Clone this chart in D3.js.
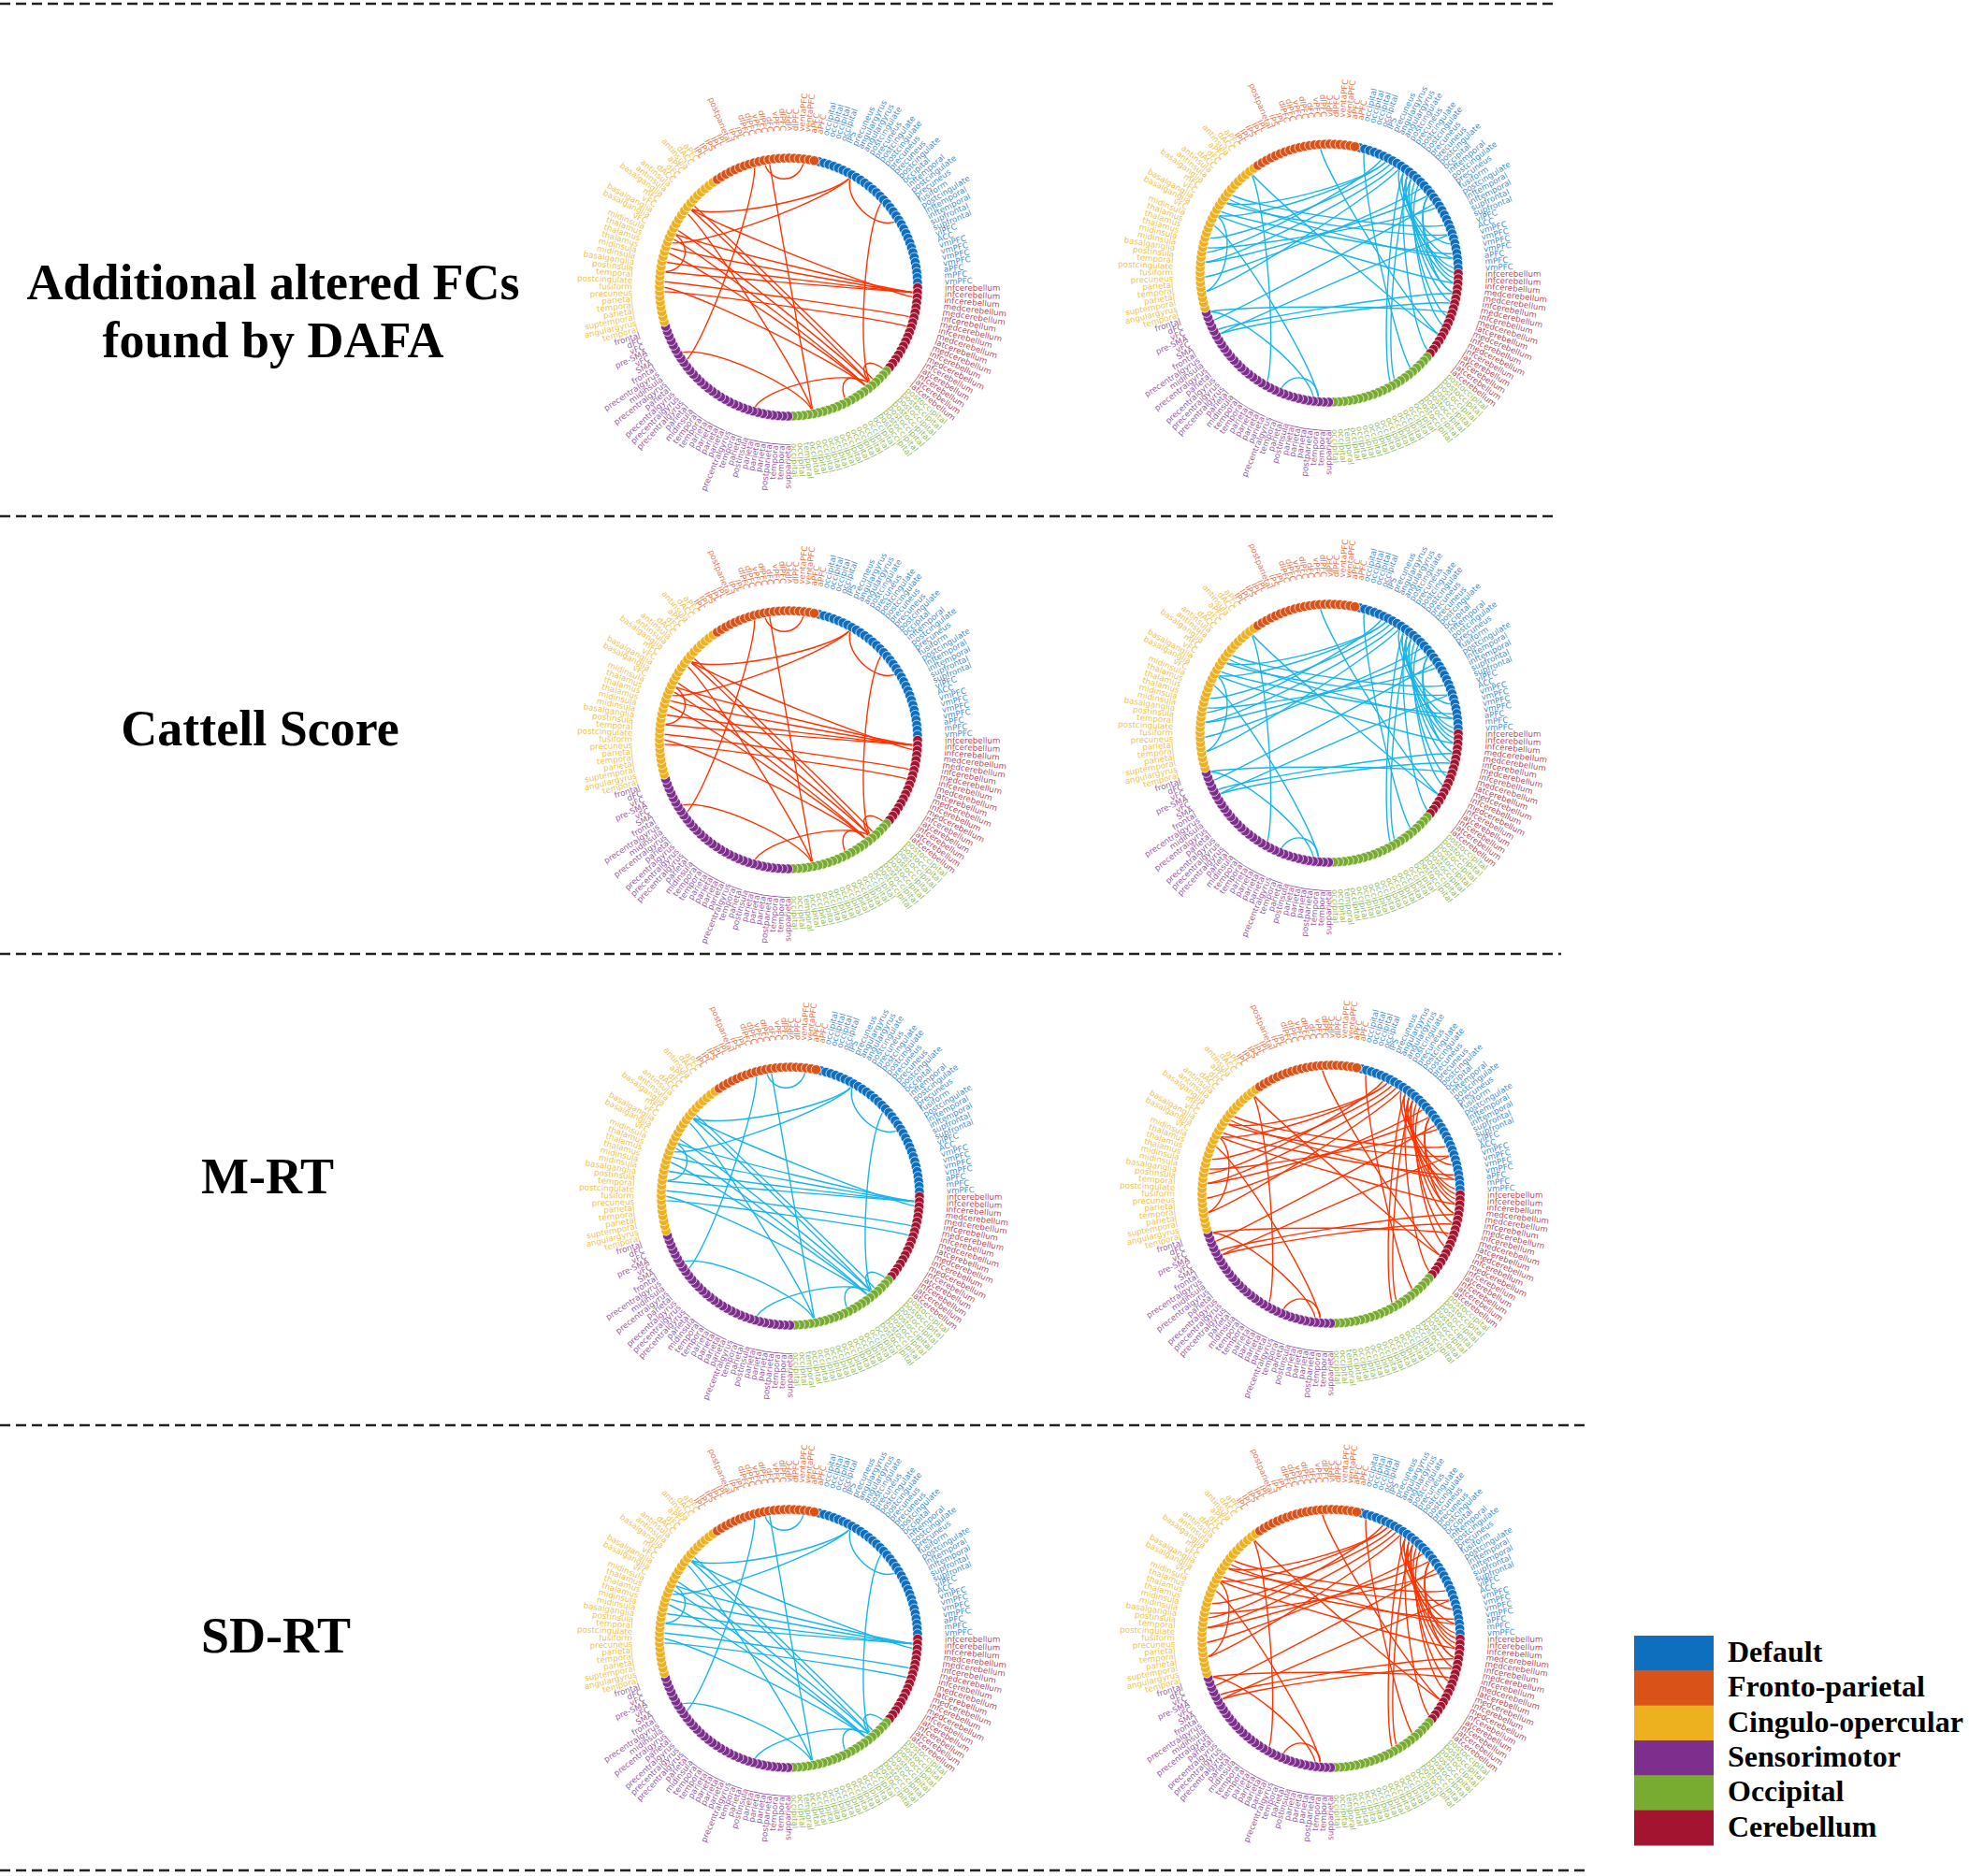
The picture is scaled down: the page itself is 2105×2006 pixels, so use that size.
<!DOCTYPE html>
<html>
<head>
<meta charset="utf-8">
<script src="https://cdn.jsdelivr.net/npm/d3@7"></script>
<style>
  body { margin: 0; background: #fff; }
</style>
</head>
<body>
<div id="chart"></div>
<script>
// networks in legend order
var networks = ["Default", "Fronto-parietal", "Cingulo-opercular", "Sensorimotor", "Occipital", "Cerebellum"];
var networkColors = ["#0d6fbd", "#d95319", "#edb120", "#7e2f8e", "#77ac30", "#a2142f"];

// order of the networks round the ring, clockwise from the top
var ringOrder = ["Default", "Cerebellum", "Occipital", "Sensorimotor", "Cingulo-opercular", "Fronto-parietal"];

// node labels of each network, clockwise
var defaultLabels = ["occipital", "occipital", "occipital", "occipital", "IPS", "precuneus", "angulargyrus",
  "angulargyrus", "postcingulate", "precuneus", "postcingulate", "postcingulate", "precuneus", "precuneus",
  "postcingulate", "occipital", "inftemporal", "postcingulate", "precuneus", "fusiform", "postcingulate",
  "inftemporal", "inftemporal", "supfrontal", "supfrontal", "vlPFC", "ACC", "vmPFC", "vmPFC", "vmPFC",
  "vmPFC", "aPFC", "mPFC", "vmPFC"];
var cerebellumLabels = ["infcerebellum", "infcerebellum", "infcerebellum", "medcerebellum", "medcerebellum",
  "infcerebellum", "medcerebellum", "infcerebellum", "medcerebellum", "latcerebellum", "medcerebellum",
  "infcerebellum", "medcerebellum", "infcerebellum", "latcerebellum", "infcerebellum", "latcerebellum",
  "latcerebellum"];
var occipitalLabels = ["postoccipital", "postoccipital", "postoccipital", "postoccipital", "postoccipital",
  "postoccipital", "postoccipital", "occipital", "occipital", "occipital", "occipital", "occipital",
  "occipital", "occipital", "occipital", "occipital", "occipital", "occipital", "occipital", "temporal",
  "occipital", "occipital"];
var sensorimotorLabels = ["supparietal", "temporal", "temporal", "postparietal", "parietal", "parietal",
  "parietal", "postinsula", "parietal", "temporal", "precentralgyrus", "parietal", "parietal", "parietal",
  "parietal", "temporal", "temporal", "midinsula", "parietal", "precentralgyrus", "precentralgyrus",
  "precentralgyrus", "parietal", "precentralgyrus", "midinsula", "precentralgyrus", "frontal", "SMA", "vFC",
  "pre-SMA", "vFC", "dFC", "frontal"];
var cinguloLabels = ["temporal", "angulargyrus", "suptemporal", "parietal", "temporal", "parietal",
  "precuneus", "fusiform", "postcingulate", "temporal", "postinsula", "basalganglia", "midinsula",
  "midinsula", "thalamus", "thalamus", "thalamus", "midinsula", "vFC", "basalganglia", "basalganglia",
  "vFC", "mFC", "basalganglia", "antinsula", "antinsula", "dACC", "dFC", "aPFC", "antinsula", "dACC", "aPFC"];
var frontoLabels = ["IPL", "IPL", "IPS", "IPL", "IPL", "postparietal", "IPS", "IPL", "dlPFC", "dlPFC", "vPFC",
  "dlPFC", "dFC", "vPFC", "dlPFC", "vlPFC", "dlPFC", "ventaPFC", "ventaPFC", "aPFC", "aPFC"];

// altered connections, as pairs of node numbers round the ring (0 = first Default node)
var edgesLeft = [[149, 157], [7, 123], [7, 131], [7, 20], [15, 56], [147, 98], [150, 69],
  [125, 35], [122, 35], [119, 35], [117, 35], [131, 36], [115, 40], [113, 42],
  [131, 56], [132, 55], [126, 56], [124, 57], [114, 57], [121, 57],
  [100, 69], [81, 56], [52, 56], [62, 57], [125, 117], [130, 69]];
var edgesRight = [[10, 28], [10, 31], [11, 34], [11, 36], [12, 38], [12, 40], [13, 43], [14, 45], [9, 33],
  [17, 35], [17, 38], [10, 61], [12, 60], [11, 51], [1, 56],
  [6, 129], [6, 126], [7, 121], [8, 116], [9, 110],
  [129, 26], [126, 36], [116, 17], [113, 15], [101, 26], [106, 42], [101, 40], [102, 38], [131, 24], [119, 20],
  [152, 47], [137, 47], [137, 87], [106, 77], [124, 76], [126, 110], [84, 76], [127, 30],
  [130, 31], [104, 19], [5, 118]];

// the four rows of panels
var rowTitles = [["Additional altered FCs", "found by DAFA"], ["Cattell Score"], ["M-RT"], ["SD-RT"]];
var leftLineColors = ["#ff3300", "#ff3300", "#17b5ec", "#17b5ec"];
var rightLineColors = ["#17b5ec", "#17b5ec", "#ff3300", "#ff3300"];

var svgWidth = 2105;
var svgHeight = 2006;

var svg = d3.select("#chart")
  .append("svg")
  .attr("width", svgWidth)
  .attr("height", svgHeight)
  .style("font-family", "'DejaVu Sans', sans-serif");

svg.append("rect")
  .attr("width", svgWidth)
  .attr("height", svgHeight)
  .attr("fill", "#fff");

// build the node list round the ring
var labelsByNetwork = {
  "Default": defaultLabels,
  "Cerebellum": cerebellumLabels,
  "Occipital": occipitalLabels,
  "Sensorimotor": sensorimotorLabels,
  "Cingulo-opercular": cinguloLabels,
  "Fronto-parietal": frontoLabels
};
var nodes = [];
ringOrder.forEach(net => {
  labelsByNetwork[net].forEach(lab => nodes.push({ label: lab, network: net }));
});

var colorScale = d3.scaleOrdinal().domain(networks).range(networkColors);

// angle of each node, degrees clockwise from the top
var angleScale = d3.scaleBand()
  .domain(d3.range(nodes.length))
  .range([12.6, 372.6]);
var nodeAngle = k => angleScale(k) + angleScale.bandwidth() / 2;

var ringR = 138;
var labelR = 167;
var ctrlR = 0.8 * ringR;

function polar(angle, r) {
  var a = angle * Math.PI / 180;
  return [r * Math.sin(a), -r * Math.cos(a)];
}

function drawCircle(cx, cy, edges, lineColor) {
  var g = svg.append("g")
    .attr("transform", `translate(${cx}, ${cy})`);

  // connections
  g.selectAll("path.edge")
    .data(edges)
    .enter()
    .append("path")
    .attr("class", "edge")
    .attr("fill", "none")
    .attr("stroke", lineColor)
    .attr("stroke-width", 1.4)
    .attr("d", d => {
      var a0 = nodeAngle(d[0]), a1 = nodeAngle(d[1]);
      var p0 = polar(a0, ringR), p1 = polar(a0, ctrlR), p2 = polar(a1, ctrlR), p3 = polar(a1, ringR);
      var p = d3.path();
      p.moveTo(p0[0], p0[1]);
      p.bezierCurveTo(p1[0], p1[1], p2[0], p2[1], p3[0], p3[1]);
      return p.toString();
    });

  // nodes
  g.selectAll("circle.node")
    .data(nodes)
    .enter()
    .append("circle")
    .attr("class", "node")
    .attr("cx", (d, i) => polar(nodeAngle(i), ringR)[0])
    .attr("cy", (d, i) => polar(nodeAngle(i), ringR)[1])
    .attr("r", 5.2)
    .attr("fill", d => colorScale(d.network))
    .attr("stroke", "#fff")
    .attr("stroke-width", 0.7);

  // radial labels
  g.selectAll("text.lab")
    .data(nodes)
    .enter()
    .append("text")
    .attr("class", "lab")
    .attr("transform", (d, i) => {
      var a = nodeAngle(i) % 360;
      return a < 180 ? `rotate(${a - 90}) translate(${labelR}, 0)` : `rotate(${a + 90}) translate(${-labelR}, 0)`;
    })
    .attr("text-anchor", (d, i) => (nodeAngle(i) % 360) < 180 ? "start" : "end")
    .attr("dominant-baseline", "central")
    .attr("font-size", "8.7px")
    .attr("fill", d => colorScale(d.network))
    .attr("fill-opacity", 0.82)
    .text(d => d.label);
}

var leftCenters = [[843, 307], [843, 791], [845, 1279], [843, 1752]];
var rightCenters = [[1421, 292], [1421, 784], [1423, 1277], [1423, 1752]];

rowTitles.forEach((lines, i) => {
  drawCircle(leftCenters[i][0], leftCenters[i][1], edgesLeft, leftLineColors[i]);
  drawCircle(rightCenters[i][0], rightCenters[i][1], edgesRight, rightLineColors[i]);
});

// row titles
var titleX = [292, 278, 286, 295];
var titleY = [320, 797, 1276, 1767];
rowTitles.forEach((lines, i) => {
  var t = svg.append("text")
    .attr("x", titleX[i])
    .attr("y", titleY[i])
    .attr("text-anchor", "middle")
    .style("font-family", "'Liberation Serif', 'Times New Roman', serif")
    .style("font-weight", "bold")
    .style("font-size", "54px")
    .attr("fill", "#000");
  lines.forEach((ln, j) => {
    t.append("tspan")
      .attr("x", titleX[i])
      .attr("dy", j === 0 ? 0 : 62)
      .text(ln);
  });
});

// dashed separators
var sepY = [4, 552, 1020, 1524, 2000];
var sepEnd = [1665, 1665, 1669, 1698, 1698];
sepY.forEach((y, i) => {
  svg.append("line")
    .attr("x1", 0)
    .attr("x2", sepEnd[i])
    .attr("y1", y)
    .attr("y2", y)
    .attr("stroke", "#222")
    .attr("stroke-width", 2.5)
    .attr("stroke-dasharray", "11,6");
});

// legend
var legendY = d3.scaleBand().domain(networks).range([1749, 1973]);
var legend = svg.append("g");
legend.selectAll("rect")
  .data(networks)
  .enter()
  .append("rect")
  .attr("x", 1747)
  .attr("y", d => legendY(d))
  .attr("width", 85)
  .attr("height", legendY.bandwidth() + 0.5)
  .attr("fill", d => colorScale(d));
legend.selectAll("text")
  .data(networks)
  .enter()
  .append("text")
  .attr("x", 1847)
  .attr("y", d => legendY(d) + 28)
  .style("font-family", "'Liberation Serif', 'Times New Roman', serif")
  .style("font-weight", "bold")
  .style("font-size", "32px")
  .attr("fill", "#000")
  .text(d => d);
</script>
</body>
</html>
